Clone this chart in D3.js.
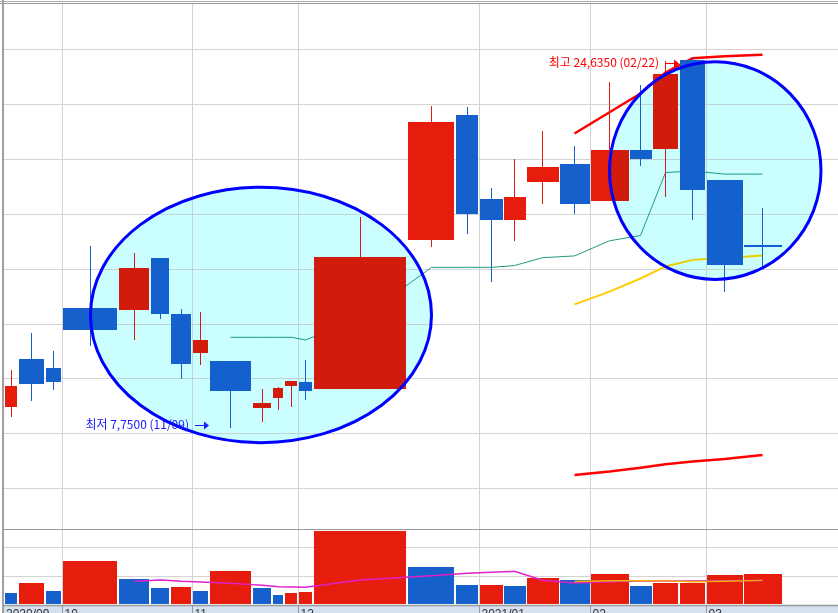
<!DOCTYPE html>
<html>
<head>
<meta charset="utf-8">
<script src="https://cdn.jsdelivr.net/npm/d3@7"></script>
<style>
  body { margin: 0; background: #fff; }
  svg { display: block; }
</style>
</head>
<body>
<svg id="chart" width="838" height="613"></svg>
<script>
const width = 838;
const height = 613;

// weekly candles, week start dates
const dates = ["2020-09-14", "2020-09-21", "2020-09-28", "2020-10-05", "2020-10-12", "2020-10-19", "2020-10-26",
  "2020-11-02", "2020-11-09", "2020-11-16", "2020-11-23", "2020-11-30", "2020-12-07", "2020-12-14", "2020-12-21",
  "2020-12-28", "2021-01-04", "2021-01-11", "2021-01-18", "2021-01-25", "2021-02-01", "2021-02-08", "2021-02-15",
  "2021-02-22", "2021-03-01", "2021-03-08"];
const opens  = [8.71, 10.88, 10.47, 13.21, 13.13, 15.49, 12.93, 11.17, 10.79, 8.66, 9.12, 9.67, 9.85,
  9.53, 16.32, 22.00, 18.17, 17.23, 18.96, 19.77, 18.10, 20.41, 20.47, 24.51, 19.04, 16.09];
const highs  = [10.38, 12.07, 11.25, 16.03, 15.71, 15.49, 13.16, 13.02, 10.79, 9.51, 9.61, 9.88, 10.84,
  17.35, 22.41, 22.37, 18.68, 20.00, 21.27, 20.59, 23.52, 23.37, 24.45, 24.635, 19.04, 17.76];
const lows   = [8.25, 8.98, 9.48, 11.49, 11.76, 12.72, 9.98, 10.62, 7.75, 8.02, 8.57, 8.71, 9.03,
  9.53, 16.00, 16.59, 14.41, 16.27, 17.96, 17.50, 18.10, 19.69, 18.28, 17.23, 13.95, 15.09];
const closes = [9.65, 9.76, 9.85, 12.22, 15.03, 12.95, 10.67, 11.75, 9.44, 8.88, 9.56, 9.88, 9.44,
  15.53, 21.68, 17.50, 17.23, 18.27, 19.63, 17.96, 20.41, 20.01, 23.89, 18.60, 15.18, 16.08];
// volume in thousands (candle widths are proportional to it)
const volumes = [381, 735, 463, 1525, 871, 545, 599, 463, 1171, 545, 327, 381, 408,
  2560, 1307, 650, 660, 626, 899, 844, 1062, 626, 725, 745, 1008, 1062];

const N = null;
const priceMA   = [N, N, N, N, N, N, N, N, 11.87, 11.87, 11.87, 11.87, 11.75,
  12.70, 15.06, 15.06, 15.06, 15.14, 15.50, 15.58, 16.27, 16.51, 19.38, 19.45, 19.31, 19.31];
const bandMid   = [N, N, N, N, N, N, N, N, N, N, N, N, N, N, N, N, N, N, N,
  13.37, 13.95, 14.55, 15.10, 15.40, 15.49, 15.60];
const bandUpper = [N, N, N, N, N, N, N, N, N, N, N, N, N, N, N, N, N, N, N,
  21.16, 22.13, 22.98, 23.94, 24.59, 24.68, 24.75];
const bandLower = [N, N, N, N, N, N, N, N, N, N, N, N, N, N, N, N, N, N, N,
  5.60, 5.75, 5.92, 6.08, 6.21, 6.32, 6.51];
const volMA5  = [N, N, N, N, 796, 842, 796, 772, 726, 656, 607, 596, 586,
  842, 993, 1077, 1112, 1147, 832, 737, 782, 807, 807, 807, 818, 825];
const volMA20 = [N, N, N, N, N, N, N, N, N, N, N, N, N, N, N, N, N, N, N,
  789, 818, 818, 810, 782, 800, 830];

const priceTicks = [5, 7.5, 10, 12.5, 15, 17.5, 20, 22.5, 25];
const volTicks = [1000, 2000];

// user drawn ellipses: candle index span and price span
const marks = [
  { from: 3, to: 14, lo: 7.07, hi: 18.71 },
  { from: 20, to: 26.5, lo: 14.51, hi: 24.43 }
];

const upColor = "#e61c0c";
const downColor = "#1660cc";
const gridColor = "#d4d4d4";

const svg = d3.select("#chart");
svg.append("rect").attr("width", width).attr("height", height).attr("fill", "#fff");

const cum = d3.cumsum(volumes);
const starts = volumes.map((v, i) => cum[i] - v);
const x = d3.scaleLinear().domain([0, cum[cum.length - 1]]).range([5, 783]);
const y = d3.scaleLinear().domain([7.5, 25]).range([433.2, 49.25]);
const yVol = d3.scaleLinear().domain([0, 1000]).range([604, 575.5]);

const x0 = starts.map(s => x(s));
const x1 = cum.map(c => x(c) - 1.5);
const mid = x0.map((a, i) => Math.floor((a + x1[i]) / 2) + 0.5);

function xAt(f) {
  const n = mid.length;
  if (f >= n - 1) return mid[n - 1] + (f - (n - 1)) * (x(cum[n - 1]) - x(starts[n - 1]));
  const i = Math.floor(f);
  return mid[i] + (f - i) * (mid[i + 1] - mid[i]);
}

// month boundaries
const months = [];
dates.forEach((d, i) => {
  const m = d.slice(0, 7);
  if (i === 0 || m !== dates[i - 1].slice(0, 7)) {
    const label = (i === 0 || d.slice(0, 4) !== dates[i - 1].slice(0, 4)) ? d.slice(0, 4) + "/" + d.slice(5, 7) : d.slice(5, 7);
    months.push({ i, label, gx: i === 0 ? 4 : Math.round(x0[i]) - 0.5 });
  }
});

// ellipse geometry
const ell = marks.map(m => {
  const l = xAt(m.from), r = xAt(m.to);
  const t = y(m.hi), b = y(m.lo);
  return { cx: (l + r) / 2, cy: (t + b) / 2, rx: (r - l) / 2, ry: (b - t) / 2 };
});

function ellipses(fill, stroke) {
  return svg.append("g")
    .selectAll("ellipse")
    .data(ell)
    .join("ellipse")
      .attr("cx", d => d.cx).attr("cy", d => d.cy)
      .attr("rx", d => d.rx).attr("ry", d => d.ry)
      .attr("fill", fill)
      .attr("stroke", stroke);
}

// light fill under everything
ellipses("#e0ffff", "none");

// grid
const grid = svg.append("g").attr("stroke", gridColor).attr("stroke-width", 1).attr("shape-rendering", "crispEdges");
grid.selectAll("line.h")
  .data(priceTicks)
  .join("line")
    .attr("class", "h")
    .attr("x1", 4).attr("x2", width)
    .attr("y1", d => Math.round(y(d)) + 0.5)
    .attr("y2", d => Math.round(y(d)) + 0.5);
grid.selectAll("line.hv")
  .data(volTicks)
  .join("line")
    .attr("class", "hv")
    .attr("x1", 4).attr("x2", width)
    .attr("y1", d => Math.round(yVol(d)) + 0.5)
    .attr("y2", d => Math.round(yVol(d)) + 0.5);
grid.selectAll("line.v")
  .data(months.slice(1))
  .join("line")
    .attr("class", "v")
    .attr("x1", d => d.gx).attr("x2", d => d.gx)
    .attr("y1", 4).attr("y2", 604);

// price lines (under candles)
const line = d3.line()
  .defined(d => d != null)
  .x((d, i) => mid[i])
  .y(d => y(d));

svg.append("path").attr("d", line(priceMA)).attr("fill", "none").attr("stroke", "#1f9a82").attr("stroke-width", 1);
svg.append("path").attr("d", line(bandUpper)).attr("fill", "none").attr("stroke", "#ff0000").attr("stroke-width", 2.5);
svg.append("path").attr("d", line(bandLower)).attr("fill", "none").attr("stroke", "#ff0000").attr("stroke-width", 2.5);
svg.append("path").attr("d", line(bandMid)).attr("fill", "none").attr("stroke", "#ffcc00").attr("stroke-width", 2);

// candles
const candles = svg.append("g").attr("class", "candles");
const candle = candles.selectAll("g")
  .data(dates)
  .join("g")
    .attr("fill", (d, i) => closes[i] > opens[i] ? upColor : downColor)
    .attr("stroke", (d, i) => closes[i] > opens[i] ? upColor : downColor);

candle.append("line")
  .attr("x1", (d, i) => mid[i]).attr("x2", (d, i) => mid[i])
  .attr("y1", (d, i) => Math.round(y(highs[i])))
  .attr("y2", (d, i) => Math.round(y(lows[i])))
  .attr("stroke-width", 1);

candle.append("rect")
  .attr("stroke", "none")
  .attr("shape-rendering", "crispEdges")
  .attr("x", (d, i) => x0[i])
  .attr("width", (d, i) => x1[i] - x0[i])
  .attr("y", (d, i) => Math.round(y(Math.max(opens[i], closes[i]))))
  .attr("height", (d, i) => Math.max(2, Math.round(y(Math.min(opens[i], closes[i]))) - Math.round(y(Math.max(opens[i], closes[i])))));

// volume bars
svg.append("g")
  .attr("shape-rendering", "crispEdges")
  .selectAll("rect")
  .data(volumes)
  .join("rect")
    .attr("x", (d, i) => x0[i])
    .attr("width", (d, i) => x1[i] - x0[i])
    .attr("y", d => yVol(d))
    .attr("height", d => 604 - yVol(d))
    .attr("fill", (d, i) => i > 0 && d > volumes[i - 1] ? upColor : downColor);

const vline = d3.line()
  .defined(d => d != null)
  .x((d, i) => mid[i])
  .y(d => yVol(d));
svg.append("path").attr("d", vline(volMA5)).attr("fill", "none").attr("stroke", "#e020c8").attr("stroke-width", 1.4);
svg.append("path").attr("d", vline(volMA20)).attr("fill", "none").attr("stroke", "#f2b000").attr("stroke-width", 1.4);

// tint over the marks inside the ellipses, then the outline
ellipses("#e8ffff", "none").style("mix-blend-mode", "multiply");
ellipses("none", "#0000ff").attr("stroke-width", 3);

// high / low labels
const hiIdx = d3.maxIndex(highs);
const loIdx = d3.minIndex(lows);
const fmt = v => v.toFixed(4).replace(".", ",");
const mmdd = d => d.slice(5, 7) + "/" + d.slice(8, 10);
const notes = [
  { text: "최고 " + fmt(highs[hiIdx]) + " (" + mmdd(dates[hiIdx]) + ")", tipX: Math.round(x0[hiIdx]) - 1, ay: y(highs[hiIdx]) + 5.5, color: "#ff0000" },
  { text: "최저 " + fmt(lows[loIdx]) + " (" + mmdd(dates[loIdx]) + ")", tipX: Math.round(x0[loIdx]) - 1, ay: y(lows[loIdx]) - 3, color: "#1a1aff" }
];
const note = svg.append("g").selectAll("g").data(notes).join("g");
note.append("line")
  .attr("x1", d => d.tipX - 14).attr("x2", d => d.tipX - 4)
  .attr("y1", d => Math.round(d.ay) + 0.5).attr("y2", d => Math.round(d.ay) + 0.5)
  .attr("stroke", d => d.color).attr("stroke-width", 1);
note.append("path")
  .attr("d", d => {
    const ay = Math.round(d.ay) + 0.5;
    return `M${d.tipX},${ay}L${d.tipX - 5},${ay - 4}L${d.tipX - 5},${ay + 4}Z`;
  })
  .attr("fill", d => d.color);
note.append("text")
  .attr("x", d => d.tipX - 20)
  .attr("y", d => d.ay + 4.5)
  .attr("text-anchor", "end")
  .attr("fill", d => d.color)
  .style("font-family", "'Noto Sans CJK KR', sans-serif")
  .style("font-size", "12px")
  .text(d => d.text);

// frame
const frame = svg.append("g").attr("shape-rendering", "crispEdges");
frame.append("line").attr("x1", 0).attr("x2", width).attr("y1", 1.5).attr("y2", 1.5).attr("stroke", "#a8a8a8");
frame.append("line").attr("x1", 0).attr("x2", width).attr("y1", 3.5).attr("y2", 3.5).attr("stroke", "#999");
frame.append("line").attr("x1", 3).attr("x2", 3).attr("y1", 0).attr("y2", height).attr("stroke", "#a0a0a0").attr("stroke-width", 2);
frame.append("line").attr("x1", 4).attr("x2", width).attr("y1", 529.5).attr("y2", 529.5).attr("stroke", "#999");

// date axis band (labels are clipped by the bottom edge, as in the source)
const axisG = svg.append("g");
axisG.append("rect").attr("x", 4).attr("y", 605).attr("width", width - 4).attr("height", height - 605).attr("fill", "#d6e1ef");
axisG.append("line").attr("x1", 4).attr("x2", width).attr("y1", 605.5).attr("y2", 605.5)
  .attr("stroke", "#999").attr("stroke-width", 1.5);
axisG.selectAll("line.tick")
  .data(months.slice(1))
  .join("line")
    .attr("class", "tick")
    .attr("x1", d => d.gx).attr("x2", d => d.gx)
    .attr("y1", 605).attr("y2", height)
    .attr("stroke", "#999");
axisG.selectAll("text")
  .data(months)
  .join("text")
    .attr("x", d => d.i === 0 ? 6 : d.gx + 2)
    .attr("y", 618)
    .attr("fill", "#333")
    .style("font-family", "'Liberation Sans', Arial, sans-serif")
    .style("font-size", "12px")
    .text(d => d.label);
</script>
</body>
</html>
